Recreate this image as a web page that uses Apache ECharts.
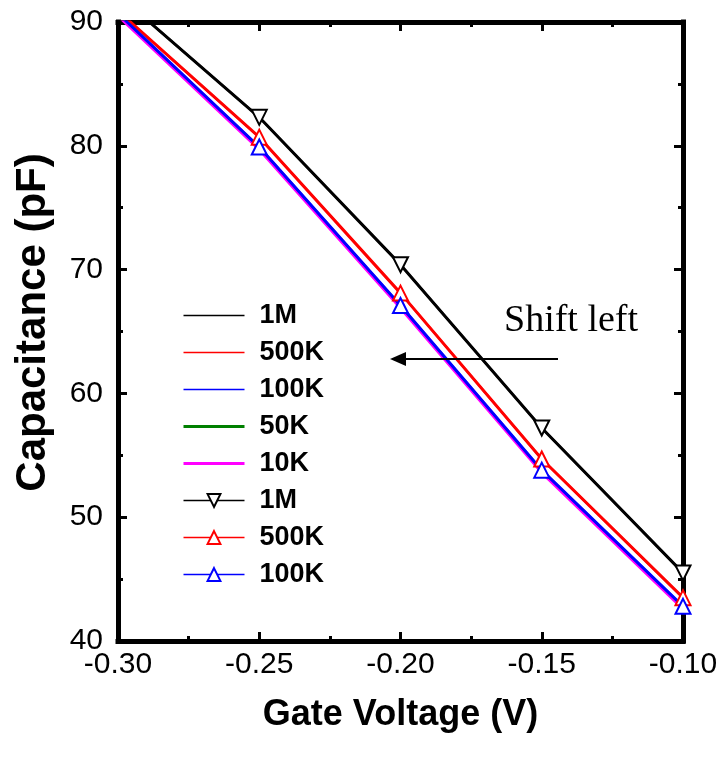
<!DOCTYPE html>
<html>
<head>
<meta charset="utf-8">
<script src="https://cdn.jsdelivr.net/npm/echarts@6/dist/echarts.min.js"></script>
<style>
  html, body { margin: 0; padding: 0; background: #fff; }
  #chart { width: 722px; height: 764px; }
</style>
</head>
<body>
<div id="chart"></div>
<script>
// Gate voltage sweep points (V)
const gateVoltage = [-0.30, -0.25, -0.20, -0.15, -0.10];

// Measured capacitance (pF) per test frequency
const cap1M   = [92.2, 82.3, 70.4, 57.2, 45.5];
const cap500K = [90.9, 80.7, 68.1, 54.7, 43.5];
const cap100K = [90.7, 79.9, 67.1, 53.8, 42.8];
const cap50K  = [90.6, 79.8, 67.0, 53.7, 42.7];
const cap10K  = [90.5, 79.7, 66.9, 53.6, 42.6];

// Axis tick labels
const xTickLabels = ['-0.30', '-0.25', '-0.20', '-0.15', '-0.10'];
const yTickLabels = ['40', '50', '60', '70', '80', '90'];

const FONT = 'Liberation Sans, Arial, Helvetica, sans-serif';
const pairs = (ys) => gateVoltage.map((x, i) => [x, ys[i]]);

const frameLine = { show: true, onZero: false, lineStyle: { color: '#000', width: 5, cap: 'square' } };
const ticks = { show: true, inside: true, length: 9, lineStyle: { color: '#000', width: 3 } };
const minor = { show: true, splitNumber: 2, length: 5, lineStyle: { color: '#000', width: 3 } };

function plainLine(name, ys, color, width, z) {
  return {
    name, type: 'line', data: pairs(ys), symbol: 'none', z,
    lineStyle: { color, width }, itemStyle: { color }, animation: false
  };
}
function markedLine(name, ys, color, rotate) {
  return {
    name, type: 'line', data: pairs(ys), z: 5,
    symbol: 'emptyTriangle', symbolSize: 15, symbolRotate: rotate, showAllSymbol: true,
    lineStyle: { color, width: 2 }, itemStyle: { color, borderWidth: 1.5 }, animation: false
  };
}

const chart = echarts.init(document.getElementById('chart'), null, { renderer: 'canvas' });
chart.setOption({
  backgroundColor: '#fff',
  animation: false,
  grid: { left: 118, right: 39, top: 22, bottom: 123 },
  xAxis: [
    {
      type: 'value', position: 'bottom', min: -0.30, max: -0.10, interval: 0.05,
      axisLine: frameLine, axisTick: ticks, minorTick: minor, splitLine: { show: false },
      axisLabel: {
        margin: 9, color: '#000', fontFamily: FONT, fontSize: 30,
        formatter: (v) => xTickLabels[Math.round((v + 0.30) / 0.05)]
      },
      name: 'Gate Voltage (V)', nameLocation: 'middle', nameGap: 56,
      nameTextStyle: { color: '#000', fontFamily: FONT, fontSize: 36, fontWeight: 'bold' }
    },
    {
      type: 'value', position: 'top', min: -0.30, max: -0.10, interval: 0.05,
      axisLine: frameLine, axisTick: ticks, minorTick: minor, splitLine: { show: false },
      axisLabel: { show: false }
    }
  ],
  yAxis: [
    {
      type: 'value', position: 'left', min: 40, max: 90, interval: 10,
      axisLine: frameLine, axisTick: ticks, minorTick: minor, splitLine: { show: false },
      axisLabel: {
        margin: 15, color: '#000', fontFamily: FONT, fontSize: 30,
        formatter: (v) => yTickLabels[Math.round((v - 40) / 10)]
      },
      name: 'Capacitance (pF)', nameLocation: 'middle', nameGap: 64,
      nameTextStyle: { color: '#000', fontFamily: FONT, fontSize: 42, fontWeight: 'bold', padding: [0, 0, 0, 18] }
    },
    {
      type: 'value', position: 'right', min: 40, max: 90, interval: 10,
      axisLine: frameLine, axisTick: ticks, minorTick: minor, splitLine: { show: false },
      axisLabel: { show: false }
    }
  ],
  legend: {
    orient: 'vertical', left: 177, top: 297,
    itemWidth: 61, itemHeight: 16, itemGap: 10,
    selectedMode: false,
    formatter: (n) => n.trim(),
    textStyle: { color: '#000', fontFamily: FONT, fontSize: 27, fontWeight: 'bold', lineHeight: 27, padding: [0, 0, 0, 10] },
    data: [
      { name: '1M', itemStyle: { opacity: 0 }, lineStyle: { width: 1.5 } },
      { name: '500K', itemStyle: { opacity: 0 }, lineStyle: { width: 1.5 } },
      { name: '100K', itemStyle: { opacity: 0 }, lineStyle: { width: 1.5 } },
      { name: '50K', itemStyle: { opacity: 0 }, lineStyle: { width: 3 } },
      { name: '10K', itemStyle: { opacity: 0 }, lineStyle: { width: 3 } },
      { name: '1M ', lineStyle: { width: 1.5 } },
      { name: '500K ', lineStyle: { width: 1.5 } },
      { name: '100K ', lineStyle: { width: 1.5 } }
    ]
  },
  series: [
    plainLine('1M', cap1M, '#000000', 3, 3),
    plainLine('500K', cap500K, '#ff0000', 3, 3),
    plainLine('100K', cap100K, '#0000ff', 3, 3),
    plainLine('50K', cap50K, '#008000', 3, 2),
    plainLine('10K', cap10K, '#ff00ff', 3, 2),
    markedLine('1M ', cap1M, '#000000', 180),
    markedLine('500K ', cap500K, '#ff0000', 0),
    markedLine('100K ', cap100K, '#0000ff', 0)
  ],
  graphic: [
    {
      type: 'text', left: 504, top: 302, z: 10,
      style: { text: 'Shift left', fill: '#000', font: '38px "Liberation Serif", "Times New Roman", serif' }
    },
    {
      type: 'line', z: 10,
      shape: { x1: 558, y1: 359, x2: 402, y2: 359 },
      style: { stroke: '#000', lineWidth: 2 }
    },
    {
      type: 'polygon', z: 10,
      shape: { points: [[390, 359], [406, 352], [406, 366]] },
      style: { fill: '#000' }
    }
  ]
});
</script>
</body>
</html>
